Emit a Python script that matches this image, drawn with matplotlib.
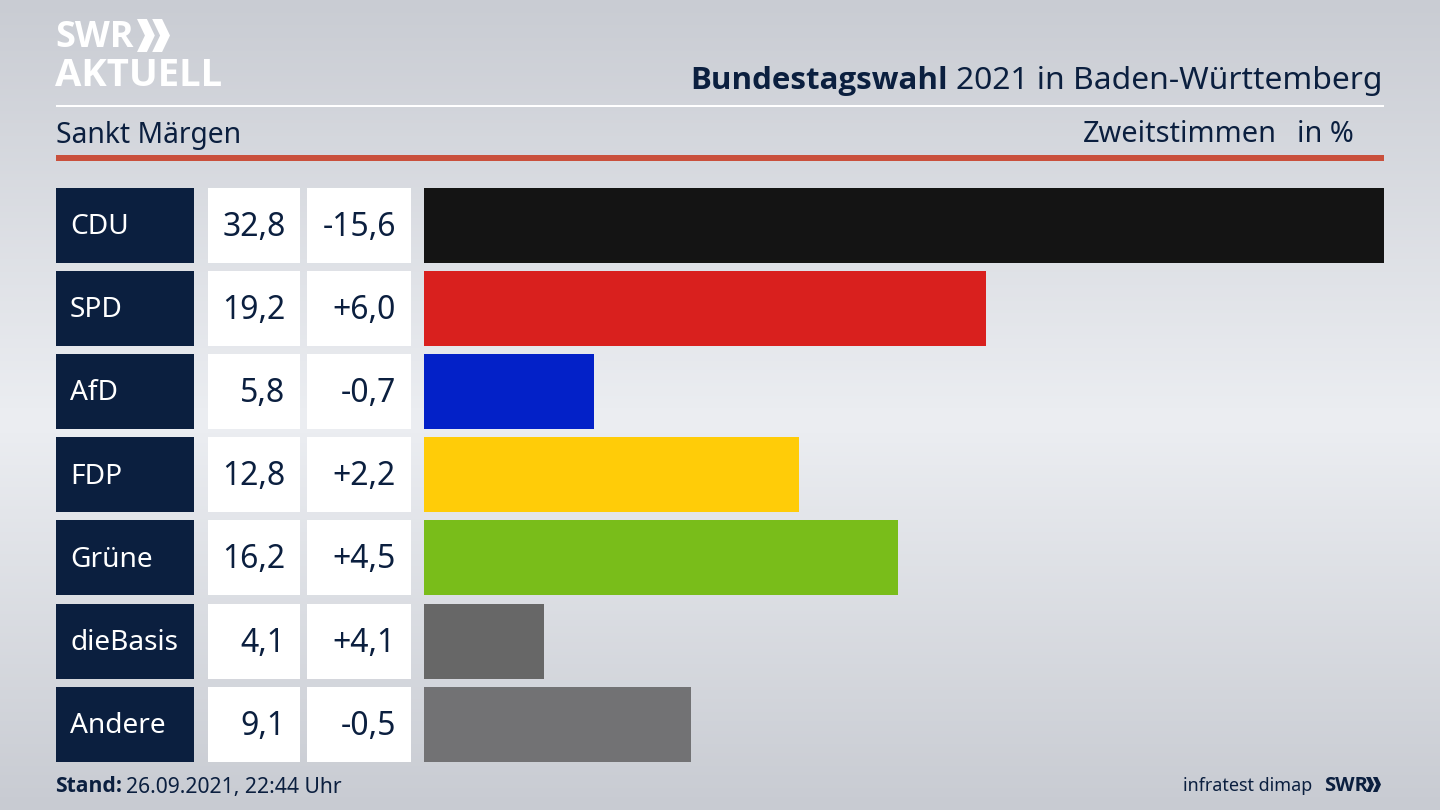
import numpy as np
import matplotlib
matplotlib.use("Agg")
import matplotlib.pyplot as plt
from matplotlib.patches import Rectangle, Polygon
from matplotlib.colors import LinearSegmentedColormap

parties = ["CDU", "SPD", "AfD", "FDP", "Grüne", "dieBasis", "Andere"]
shares = [32.8, 19.2, 5.8, 12.8, 16.2, 4.1, 9.1]
share_labels = ["32,8", "19,2", "5,8", "12,8", "16,2", "4,1", "9,1"]
change_labels = ["-15,6", "+6,0", "-0,7", "+2,2", "+4,5", "+4,1", "-0,5"]
colors = ["#141414", "#d9201e", "#0321c8", "#ffcc08", "#79bd1a", "#676767", "#727274"]

NAVY = "#0b1f3f"
FONT = "Noto Sans"
BOLD = "Open Sans"
plt.rcParams["font.family"] = [FONT, "DejaVu Sans"]

W, H = 1440, 810
fig = plt.figure(figsize=(W / 100, H / 100), dpi=100)

# pixel-coordinate layer for background, header and table
bg = fig.add_axes([0, 0, 1, 1])
bg.set_xlim(0, W)
bg.set_ylim(H, 0)
bg.axis("off")
cmap = LinearSegmentedColormap.from_list(
    "bg", [(0, "#c9ccd3"), (0.52, "#eceef2"), (1, "#c8cbd2")])
bg.imshow(np.linspace(0, 1, 256).reshape(-1, 1), cmap=cmap, aspect="auto",
          extent=(0, W, H, 0), zorder=0)


def rect(x0, y0, x1, y1, color, z=1):
    bg.add_patch(Rectangle((x0, y0), x1 - x0, y1 - y0, facecolor=color,
                           edgecolor="none", zorder=z))


def chevrons(x, y, h, color, n=2):
    w = h * 0.54
    t = h * 0.30
    for i in range(n):
        ox = x + i * h * 0.46
        bg.add_patch(Polygon([(ox, y), (ox + t, y), (ox + w, y + h / 2), (ox + t, y + h),
                              (ox, y + h), (ox + w - t, y + h / 2)],
                             closed=True, facecolor=color, edgecolor="none", zorder=3))


# logo
bg.text(55, 38, "SWR", color="white", fontsize=26, fontweight="bold", va="center",
        ha="left", family=BOLD)
chevrons(137, 19, 33, "white")
bg.text(55, 76, "AKTUELL", color="white", fontsize=27.5, fontweight="bold", va="center",
        ha="left", family=BOLD)

# header
rect(56, 104.5, 1384, 107, "white")
rect(56, 155, 1384, 160.5, "#c9503c")
title = bg.text(1383, 81, "2021 in Baden-Württemberg", color=NAVY, fontsize=22.9,
                ha="right", va="center")
fig.canvas.draw()
bb = title.get_window_extent()
bg.text(bb.x0 - 9, 81, "Bundestagswahl", color=NAVY, fontsize=22.5, fontweight="bold",
        ha="right", va="center", family=BOLD)
bg.text(56, 135, "Sankt Märgen", color=NAVY, fontsize=20.4, ha="left", va="center")
bg.text(1277, 135, "Zweitstimmen", color=NAVY, fontsize=20.8, ha="right", va="center")
bg.text(1354, 135, "in %", color=NAVY, fontsize=20.8, ha="right", va="center")

# table
top, row_h, pitch = 187.5, 75, 83.2
for i, (p, s, c) in enumerate(zip(parties, share_labels, change_labels)):
    y0 = top + i * pitch
    y1 = y0 + row_h
    ym = (y0 + y1) / 2
    rect(56, y0, 193.5, y1, NAVY)
    rect(208, y0, 300, y1, "white")
    rect(307, y0, 410.5, y1, "white")
    bg.text(70, ym + 2, p, color="white", fontsize=20.2, ha="left", va="center")
    bg.text(285.5, ym + 2, s, color=NAVY, fontsize=23, ha="right", va="center")
    bg.text(396, ym + 2, c, color=NAVY, fontsize=23, ha="right", va="center")

# footer
t = bg.text(55.5, 787, "Stand:", color=NAVY, fontsize=15.2, fontweight="bold",
            ha="left", va="center", family=BOLD)
fig.canvas.draw()
bg.text(t.get_window_extent().x1 + 3, 787, "26.09.2021, 22:44 Uhr", color=NAVY,
        fontsize=15.2, ha="left", va="center")
bg.text(1312, 786, "infratest dimap", color=NAVY, fontsize=12.9, ha="right", va="center")
bg.text(1324, 786, "SWR", color=NAVY, fontsize=14.5, fontweight="bold", ha="left",
        va="center", family=BOLD)
chevrons(1366, 777, 15, NAVY)

# bars through their own axes
bar_left, bar_right = 424.3, 1384
y_top = top
y_bot = top + 6 * pitch + row_h
ax = fig.add_axes([bar_left / W, 1 - y_bot / H, (bar_right - bar_left) / W, (y_bot - y_top) / H])
ax.patch.set_alpha(0)
ax.set_xlim(0, 32.8)
ax.set_ylim(6 + row_h / pitch / 2, -row_h / pitch / 2)
ax.barh(range(len(parties)), shares, height=row_h / pitch, color=colors)
ax.axis("off")

fig.savefig("out.png", dpi=100)
